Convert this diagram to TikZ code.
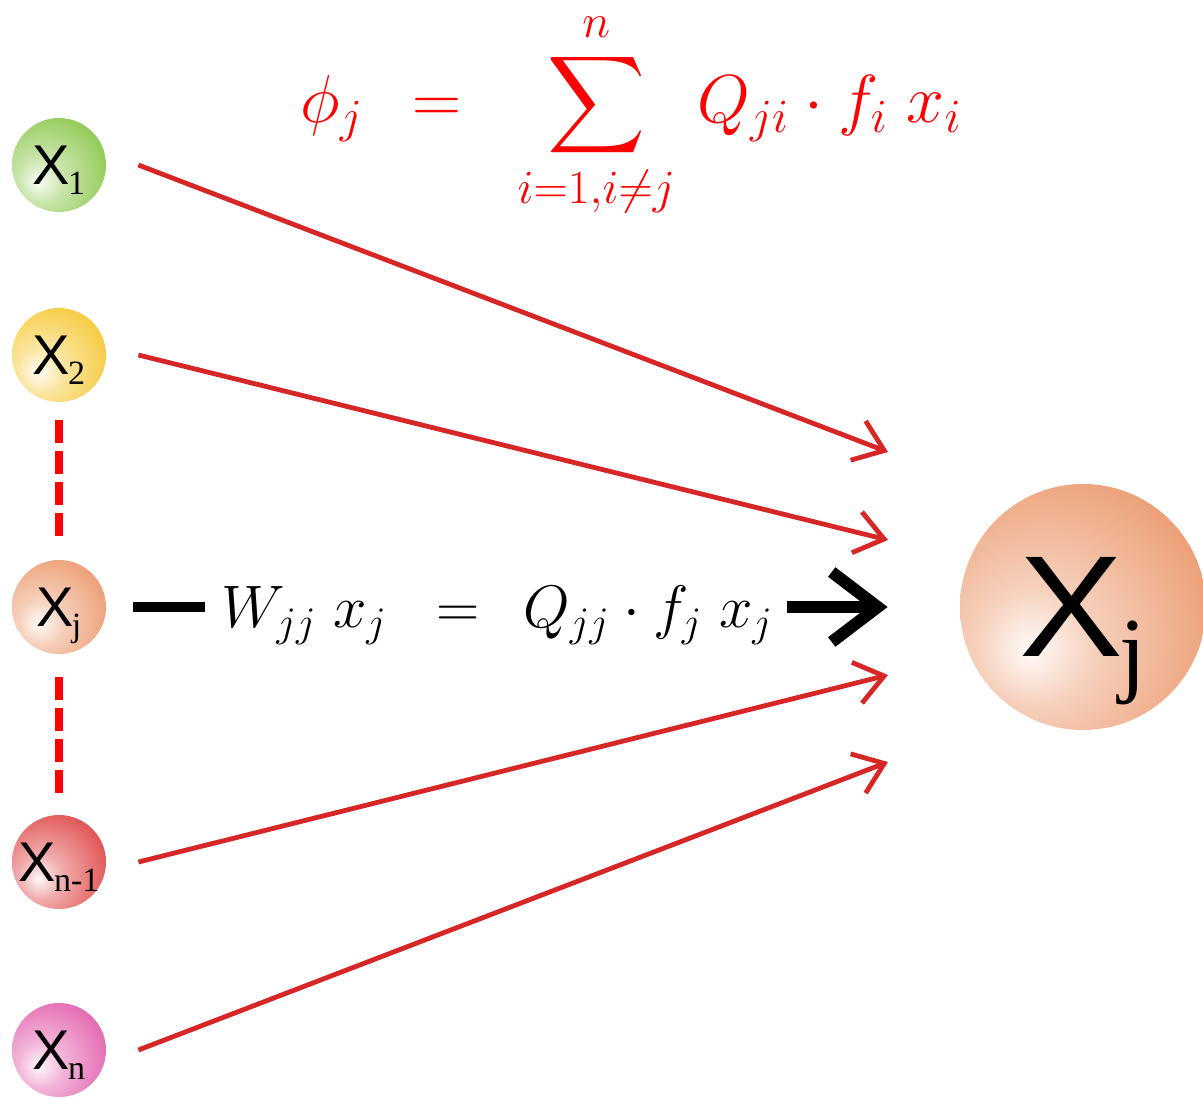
\documentclass[tikz,border=0pt]{standalone}
\usepackage{fix-cm}
\usepackage{amsmath,amssymb}
\usepackage{fontspec}
\usepackage{tikz}
\usetikzlibrary{arrows.meta,positioning,calc}
\newfontfamily\lsans{Liberation Sans}
\newfontfamily\lserif{Liberation Serif}
\definecolor{greencol}{RGB}{122,190,48}
\definecolor{yellowcol}{RGB}{243,192,22}
\definecolor{orangecol}{RGB}{232,138,88}
\definecolor{redcol}{RGB}{218,45,45}
\definecolor{pinkcol}{RGB}{222,72,160}
\definecolor{feedcol}{RGB}{214,38,38}
\colorlet{orbcol}{orangecol}
\pgfdeclareradialshading[orbcol]{orb}{\pgfpoint{-11bp}{-9bp}}{%
  color(0bp)=(orbcol!4!white); color(12bp)=(orbcol!40!white);
  color(38bp)=(orbcol!88!white); color(55bp)=(orbcol); color(100bp)=(orbcol)}
\newcommand{\sublab}[1]{\fontsize{28}{28}\selectfont\lsans X\kern-1pt\smash{\raisebox{-5pt}{\lserif\fontsize{17}{17}\selectfont #1}}}
\newcommand{\biglab}[1]{\fontsize{72}{72}\selectfont\lsans\scalebox{1.08}[1]{X}\kern-2pt\smash{\raisebox{-14pt}{\lserif\fontsize{48}{48}\selectfont #1}}}
\tikzset{
  orbfill/.code={\colorlet{orbcol}{#1}},
  orb/.style={circle,minimum size=47pt,inner sep=0pt,shading=orb,orbfill=#1},
  bigorb/.style={circle,minimum size=123pt,inner sep=0pt,shading=orb,orbfill=#1},
  feed/.style={-{Straight Barb[length=14pt,width=21pt]},draw=feedcol,line width=2.4pt},
  selfline/.style={line width=5pt},
  selfarrow/.style={-{Straight Barb[length=23pt,width=35pt]},line width=6pt},
  dots/.style={red,line width=4pt,dash pattern=on 11.5pt off 4pt}
}
\begin{document}
\begin{tikzpicture}[x=0.5pt,y=-0.5pt]
  \useasboundingbox (0,0) rectangle (1203,1098);
  % input units
  \node[orb=greencol] (X1) at (59,165) {\sublab{1}};
  \node[orb=yellowcol] (X2) at (59,355) {\sublab{2}};
  \node[orb=orangecol] (Xj) at (59,607) {\sublab{j}};
  \node[orb=redcol] (Xm) at (59,862) {\sublab{n-1}};
  \node[orb=pinkcol] (Xn) at (59,1050) {\sublab{n}};
  % target unit
  \node[bigorb=orangecol] (Xbig) at (1083,607) {\biglab{j}};
  \draw[dots,shorten <=9pt,shorten >=12pt] (X2.south) -- (Xj.north);
  \draw[dots,shorten <=11.5pt,shorten >=11pt] (Xj.south) -- (Xm.north);
  % arrow ends in front of the target
  \coordinate (in1) at ([shift={(-195,-155)}]Xbig.center);
  \coordinate (in2) at ([shift={(-195,-67)}]Xbig.center);
  \coordinate (in3) at ([shift={(-195,68)}]Xbig.center);
  \coordinate (in4) at ([shift={(-195,155)}]Xbig.center);
  \draw[feed] ([xshift=16pt]X1.east) -- (in1);
  \draw[feed] ([xshift=16pt]X2.east) -- (in2);
  \draw[feed] ([xshift=16pt]Xm.east) -- (in3);
  \draw[feed] ([xshift=16pt]Xn.east) -- (in4);
  % self term
  \node[anchor=base,inner sep=0pt,font=\fontsize{30}{36}\selectfont] (weq) at (497,627)
    {$W_{jj}\;x_j\;\;=\;\,Q_{jj}\cdot f_j\;x_j$};
  \draw[selfline,shorten <=13.5pt,shorten >=8pt] (Xj.east) -- (Xj.east -| weq.west);
  \draw[selfarrow,shorten <=7pt,shorten >=36pt] (weq.east |- Xbig.west) -- (Xbig.west);
  % input sum
  \node[anchor=base,red,inner sep=0pt,font=\fontsize{34}{40}\selectfont] (phi) at (631,122)
    {$\displaystyle \phi_j\;\,=\;\;\sum_{i=1,i\neq j}^{n}\,Q_{ji}\cdot f_i\;x_i$};
\end{tikzpicture}
\end{document}
